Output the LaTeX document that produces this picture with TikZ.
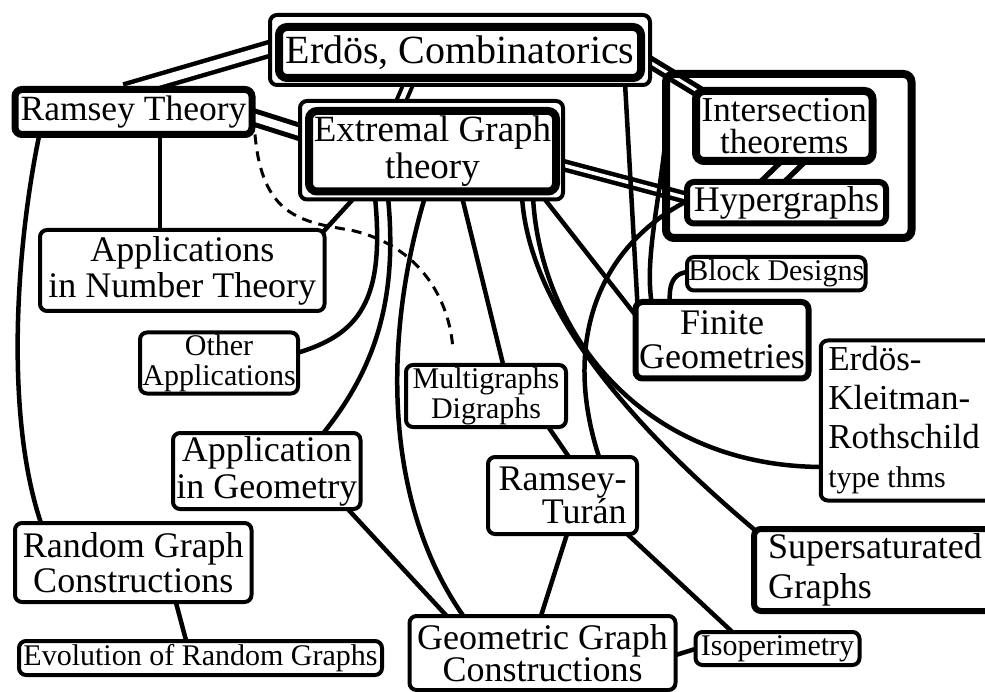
\documentclass[tikz,border=0pt]{standalone}
\usepackage{fontspec}
\setmainfont{Liberation Serif}
\usetikzlibrary{calc}
\pgfdeclarelayer{bg}
\pgfdeclarelayer{edges}
\pgfsetlayers{bg,edges,main}
\begin{document}
\begin{tikzpicture}[x=1pt,y=-1pt,
  box/.style={draw, fill=white, rounded corners=7pt, line width=4pt, inner sep=0pt, outer sep=0pt, align=center},
  thickbox/.style={box, line width=8pt, rounded corners=8pt},
  medbox/.style={box, line width=6pt},
  conn/.style={line width=4.5pt},
  dbl/.style 2 args={double, line width=#1, double distance=#2},
  dashconn/.style={line width=3pt, dash pattern=on 10pt off 7pt}
]
\useasboundingbox (0,0) rectangle (985,692);
\begin{pgfonlayer}{bg}
\fill[white] (0,0) rectangle (985,692);
\end{pgfonlayer}

% ---------- nodes ----------
\node[box, minimum width=380pt, minimum height=70pt] (erdos) at (460,50) {};
\node[thickbox, minimum width=362pt, minimum height=51pt, font=\fontsize{40pt}{40pt}\selectfont] (erdosin) at (460,52.5) {Erdös, Combinatorics};

\node[box, line width=7pt, minimum width=237pt, minimum height=45pt, font=\fontsize{35.5pt}{36pt}\selectfont] (ramsey) at (133.5,112) {Ramsey Theory};

\node[box, minimum width=263pt, minimum height=98.5pt] (extremal) at (431.5,150.25) {};
\node[thickbox, minimum width=247pt, minimum height=80.5pt, font=\fontsize{37pt}{37pt}\selectfont] (extremalin) at (432.5,151.25) {Extremal Graph\\theory};

\node[draw, line width=8pt, rounded corners=8pt, inner sep=0pt, outer sep=0pt, minimum width=245.5pt, minimum height=164pt] (group) at (788.75,156) {};
\node[thickbox, minimum width=176.5pt, minimum height=70pt, font=\fontsize{35pt}{32pt}\selectfont] (inter) at (784.25,126) {Intersection\\theorems};
\node[medbox, minimum width=199pt, minimum height=41.5pt, font=\fontsize{36pt}{36pt}\selectfont] (hyper) at (786.5,202.75) {Hypergraphs};

\node[box, minimum width=284.5pt, minimum height=81pt, font=\fontsize{36pt}{36pt}\selectfont] (appnt) at (182.25,270.5) {Applications\\in Number Theory};
\node[box, minimum width=158pt, minimum height=61pt, font=\fontsize{30pt}{30pt}\selectfont] (otherapp) at (219,363) {Other\\Applications};
\node[box, minimum width=178.5pt, minimum height=33.5pt, font=\fontsize{30pt}{30pt}\selectfont] (block) at (776.25,273.75) {Block Designs};
\node[medbox, minimum width=173pt, minimum height=76.5pt, font=\fontsize{36pt}{34pt}\selectfont] (finite) at (722,340.25) {Finite\\Geometries};
\node[box, align=left, text width=164pt, inner xsep=7.5pt, minimum height=160pt, font=\fontsize{35pt}{39pt}\selectfont] (ekr) at (910.25,420.5) {Erdös-\\Kleitman-\\Rothschild\\{\fontsize{30pt}{36pt}\selectfont\spaceskip=0pt type thms}};
\node[box, minimum width=160pt, minimum height=62pt, font=\fontsize{30pt}{30pt}\selectfont] (multi) at (486,396) {Multigraphs\\Digraphs};
\node[box, minimum width=187.5pt, minimum height=76pt, font=\fontsize{36pt}{37pt}\selectfont] (appgeo) at (266.75,471) {Application\\in Geometry};
\node[box, align=right, minimum width=149pt, minimum height=77pt, font=\fontsize{36pt}{33pt}\selectfont] (rt) at (562.5,495.5) {Ramsey-\\Turán};
\node[box, minimum width=236.5pt, minimum height=79pt, font=\fontsize{36pt}{35pt}\selectfont] (random) at (133.25,562.5) {Random Graph\\Constructions};
\node[box, minimum width=363pt, minimum height=34pt, font=\fontsize{30pt}{30pt}\selectfont] (evol) at (200.5,658) {Evolution of Random Graphs};
\node[box, minimum width=266pt, minimum height=74pt, font=\fontsize{36pt}{31pt}\selectfont] (geo) at (542.5,653) {Geometric Graph\\Constructions};
\node[box, minimum width=164pt, minimum height=33pt, font=\fontsize{30pt}{30pt}\selectfont] (iso) at (777.5,648.5) {Isoperimetry};
\node[medbox, align=left, text width=218pt, inner xsep=14pt, minimum height=82pt, font=\fontsize{36pt}{40pt}\selectfont] (super) at (877,570) {Supersaturated\\Graphs};

\coordinate (dashend) at (453,350);

% ---------- connectors ----------
\begin{pgfonlayer}{edges}
% double connectors
\draw[dbl={4.5pt}{9pt}] ($(erdos.north west)+(6,32)$) -- ($(ramsey.north west)+(110,1.5)$);
\draw[dbl={5pt}{8pt}] ($(ramsey.north west)+(231,25.5)$) -- ($(extremal.north west)+(6,33)$);
\draw[dbl={4pt}{5pt}] ($(erdos.north west)+(141,63)$) -- ($(extremal.north west)+(99,5)$);
\draw[dbl={5pt}{3pt}] ($(erdos.north west)+(374,43.5)$) -- ($(inter.north west)+(8,4)$);
\draw[dbl={5.5pt}{11pt}] ($(inter.north west)+(102,66)$) -- ($(hyper.north west)+(80,5)$);
\draw[dbl={4.5pt}{3.5pt}] ($(extremal.north west)+(257,62.5)$) -- ($(hyper.north west)+(6,17.5)$);

% single connectors
\draw[conn] ($(ramsey.north west)+(145,42)$) -- ($(appnt.north west)+(120,3)$);
\draw[conn] ($(ramsey.north west)+(25,42)$) .. controls (15,250) and (5,420) .. ($(random.north west)+(27,3)$);
\draw[dashconn] ($(ramsey.north west)+(240,45)$) .. controls (262,215) and (300,222) .. (350,230) .. controls (420,245) and (450,300) .. (dashend);
\draw[conn] ($(extremal.north west)+(55,96)$) -- ($(appnt.north west)+(283,2)$);
\draw[conn] ($(extremal.north west)+(75,96)$) .. controls (385,300) and (360,335) .. ($(otherapp.north west)+(155,21)$);
\draw[conn] ($(extremal.north west)+(88,96)$) .. controls (398,300) and (375,370) .. ($(appgeo.north west)+(148,3)$);
\draw[conn] ($(extremal.north west)+(125,96)$) .. controls (385,330) and (380,500) .. ($(geo.north west)+(56,3)$);
\draw[conn] ($(extremal.north west)+(162,96)$) -- ($(multi.north west)+(98,3)$);
\draw[conn] ($(extremal.north west)+(222,96)$) .. controls (528,290) and (600,400) .. ($(super.north west)+(2,2)$);
\draw[conn] ($(extremal.north west)+(233,96)$) .. controls (540,330) and (640,467) .. ($(ekr.north west)+(3,126.5)$);
\draw[conn] ($(extremal.north west)+(243,96)$) -- ($(finite.north west)+(3,17)$);
\draw[conn] ($(hyper.north west)+(2,18)$) .. controls (600,245) and (560,340) .. ($(rt.north west)+(112,3)$);
\draw[conn] ($(erdos.north west)+(355,68)$) -- ($(finite.north west)+(2,3)$);
\draw[conn] ($(group.north west)+(0,60)$) .. controls (660,200) and (644,260) .. ($(finite.north west)+(16.5,3)$);
\draw[conn] ($(finite.north west)+(34.5,2)$) .. controls (668,280) and (676,272) .. ($(block.north west)+(3,15)$);
\draw[conn] ($(multi.north west)+(141,60)$) -- ($(rt.north west)+(83,3)$);
\draw[conn] ($(rt.north west)+(80,74)$) -- ($(geo.north west)+(130.5,3)$);
\draw[conn] ($(rt.north west)+(136,74)$) -- ($(iso.north west)+(40,3)$);
\draw[conn] ($(geo.north west)+(263,40)$) -- ($(iso.north west)+(3,16)$);
\draw[conn] ($(appgeo.north west)+(172,73)$) -- ($(geo.north west)+(40,3)$);
\draw[conn] ($(random.north west)+(160,76)$) -- ($(evol.north west)+(168,3)$);
\end{pgfonlayer}
\end{tikzpicture}
\end{document}
